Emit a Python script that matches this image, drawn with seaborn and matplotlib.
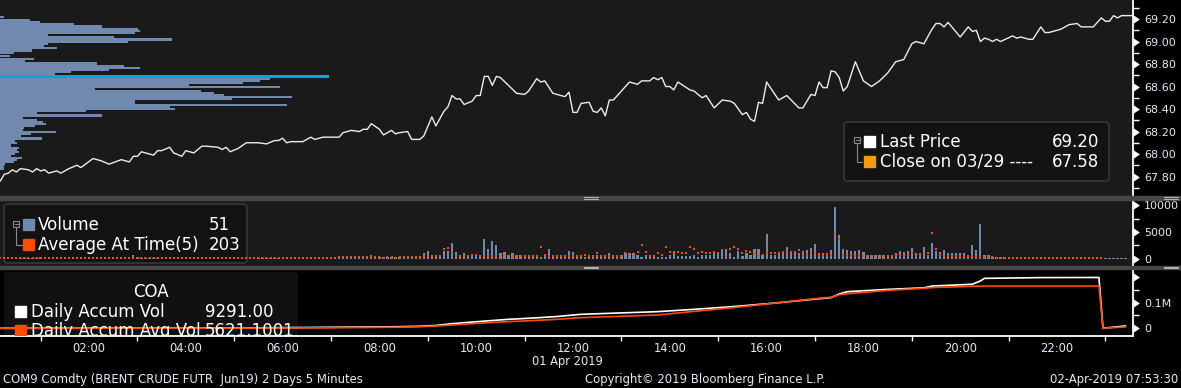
import numpy as np
import matplotlib
matplotlib.use("Agg")
import matplotlib.pyplot as plt
import matplotlib.transforms as mtransforms
from matplotlib.patches import Rectangle, FancyBboxPatch
from matplotlib.lines import Line2D
import seaborn as sns

# ------------------------------------------------------------------ data
price_time = ["00:10","00:15","00:20","00:25","00:30","00:35","00:45","00:50","00:55","01:00",
              "01:05","01:10","01:20","01:25","01:35","01:45","01:50","02:05","02:15","02:25",
              "02:40","02:50","02:55","03:00","03:05","03:20","03:25","03:30","03:40","03:45",
              "03:55","04:00","04:05","04:10","04:20","04:25","04:40","04:45","04:50","04:55",
              "05:05","05:15","05:30","05:40","05:50","05:55","06:00","06:05","06:10","06:25",
              "06:35","06:40","06:50","07:10","07:15","07:25","07:35","07:40","07:45","07:50",
              "08:00","08:05","08:15","08:20","08:25","08:35","08:40","08:50","08:55","09:05",
              "09:10","09:20","09:25","09:30","09:35","09:40","09:45","09:55","10:00","10:05",
              "10:10","10:15","10:20","10:25","10:30","10:50","11:00","11:05","11:15","11:20",
              "11:25","11:35","11:50","11:55","12:00","12:05","12:10","12:20","12:25","12:30",
              "12:35","12:40","12:45","12:50","13:00","13:10","13:20","13:25","13:35","13:40",
              "13:45","13:50","13:55","14:00","14:05","14:10","14:25","14:30","14:40","14:45",
              "14:55","15:05","15:15","15:20","15:30","15:35","15:40","15:45","15:50","15:55",
              "16:00","16:15","16:25","16:40","16:45","16:55","17:00","17:05","17:10","17:15",
              "17:20","17:25","17:30","17:35","17:40","17:50","18:00","18:10","18:20","18:30",
              "18:40","18:50","19:00","19:05","19:15","19:25","19:30","19:35","19:40","19:45",
              "20:00","20:10","20:15","20:20","20:25","20:30","20:35","20:40","20:45","20:50",
              "21:05","21:10","21:15","21:25","21:30","21:40","21:45","21:50","22:05","22:15",
              "22:25","22:30","22:45","22:55","23:00","23:05","23:10","23:15","23:20","23:34"]
price_value = [67.76,67.82,67.83,67.86,67.84,67.87,67.86,67.84,67.87,67.85,
               67.86,67.83,67.85,67.83,67.87,67.90,67.88,67.96,67.94,67.91,
               67.95,67.93,67.98,67.98,68.02,67.99,68.03,68.03,68.06,68.01,
               67.98,68.03,68.02,68.01,68.07,68.07,68.06,68.04,68.06,68.02,
               68.05,68.10,68.10,68.09,68.12,68.12,68.14,68.10,68.11,68.11,
               68.15,68.13,68.15,68.15,68.19,68.21,68.20,68.22,68.22,68.27,
               68.22,68.17,68.21,68.18,68.19,68.20,68.13,68.13,68.16,68.33,
               68.25,68.38,68.42,68.52,68.49,68.49,68.44,68.47,68.52,68.52,
               68.69,68.69,68.61,68.69,68.68,68.54,68.53,68.56,68.67,68.64,
               68.65,68.54,68.51,68.55,68.37,68.37,68.45,68.46,68.38,68.37,
               68.41,68.34,68.48,68.48,68.56,68.64,68.62,68.65,68.65,68.68,
               68.66,68.68,68.60,68.60,68.57,68.64,68.57,68.56,68.50,68.52,
               68.41,68.48,68.47,68.45,68.35,68.37,68.31,68.29,68.46,68.45,
               68.64,68.48,68.52,68.41,68.41,68.53,68.52,68.64,68.59,68.59,
               68.74,68.73,68.68,68.56,68.60,68.82,68.65,68.60,68.65,68.72,
               68.82,68.84,68.98,69.00,68.98,69.11,69.16,69.16,69.13,69.17,
               69.04,69.13,69.09,69.10,69.00,69.03,69.02,69.00,69.02,69.00,
               69.05,69.03,69.04,69.02,69.02,69.13,69.08,69.08,69.11,69.15,
               69.16,69.13,69.13,69.21,69.18,69.18,69.23,69.21,69.23,69.23]

bar_start = "00:10"   # first 5-minute bar, then one bar every 5 minutes
volume = [150,200,180,220,160,120,90,80,140,180,
          200,150,120,100,90,130,110,100,80,120,140,100,
          110,90,130,150,120,100,140,110,160,130,180,620,
          200,150,120,110,140,100,90,120,110,100,130,150,
          120,100,90,110,130,100,80,90,120,110,100,140,
          130,120,100,150,110,120,140,100,130,160,150,180,
          300,160,140,180,150,200,170,160,190,150,170,200,
          180,200,220,300,210,190,240,250,230,260,690,280,
          300,250,220,280,260,240,300,500,260,320,400,
          1125,1500,750,750,750,1500,1500,3000,1310,500,
          1125,750,750,750,500,3750,1875,3190,2625,1125,
          1310,750,1125,750,750,750,500,750,750,375,
          750,1690,500,500,750,750,1500,1310,750,750,
          190,750,750,750,500,750,940,750,750,750,
          940,940,940,750,375,750,750,750,375,375,
          375,750,1125,500,500,500,500,750,375,750,
          750,750,1125,940,1500,1875,1125,375,1500,500,
          1125,750,1875,1690,750,4690,750,750,1125,1500,
          2250,1125,1125,1125,
          1375,1560,2000,2690,1060,940,1125,1560,9690,4375,
          1750,1560,1375,1375,1560,1250,750,750,750,625,
          625,625,750,1125,1375,1250,1375,2000,940,940,
          2190,750,3000,1375,1250,1560,940,1125,1125,940,
          940,750,2625,1560,6440,625,750,
          190,190,310,250,200,180,220,150,200,170,160,190,210,180,
          150,170,200,160,140,180,170,150,200,160,130,180,150,120,
          60,40,70,45,55,51]
avg_at_time = [120,100,110,90,100,80,90,100,110,120,
               110,100,90,100,80,90,100,90,80,100,90,100,
               100,110,90,100,120,100,90,100,110,100,120,130,
               110,100,90,100,90,80,100,90,100,90,100,110,
               100,90,100,90,100,110,90,100,90,100,110,100,
               110,100,120,110,100,120,110,130,120,110,130,140,
               150,130,140,150,160,140,150,170,160,150,170,180,
               170,180,200,190,210,200,220,230,210,240,260,250,
               200,180,190,200,180,200,210,220,220,250,250,
               440,440,560,440,560,1875,2060,1125,560,440,
               560,560,750,750,440,440,560,560,560,560,
               750,440,440,440,440,560,440,560,560,2250,
               750,440,440,440,440,440,440,440,440,560,
               750,560,560,940,440,560,440,560,560,560,
               940,750,750,1310,2440,1310,560,560,940,750,
               2250,1310,1310,1310,940,940,2250,1690,1125,1310,
               1125,940,1310,940,1560,560,1875,2250,1875,1125,
               1500,1310,1125,750,750,940,940,940,940,1310,
               1310,1310,1310,1560,
               690,750,940,1125,625,750,690,750,4690,3750,
               750,625,625,560,625,560,440,500,440,500,
               440,500,560,625,750,560,625,940,560,625,
               940,1125,4800,1875,625,560,500,440,440,380,
               380,310,440,310,250,250,190,
               190,160,150,170,140,150,130,160,150,140,130,150,140,160,
               150,130,140,150,130,140,120,150,140,130,120,140,130,150,
               np.nan,np.nan,np.nan,np.nan,np.nan,np.nan]

accum_time = ["00:10","05:00","06:20","07:00","07:40","08:20","08:50","09:10","09:30","09:50",
              "10:10","10:40","11:10","11:40","12:10","12:50","13:45","14:30","15:20","16:15",
              "17:10","17:20","17:30","17:40","18:30","19:15","19:25","20:15","20:25","20:30",
              "21:40","22:52","22:57","23:25"]
accum_vol = [0,1000,3000,4000,5000,6000,8000,11000,18000,23000,
             28000,35000,40000,46000,54600,59000,65000,74000,85000,100000,
             117000,120000,134000,143000,152000,158000,165000,172000,185000,195000,
             198000,198500,0,9291]
accum_avg = [0,500,1500,2000,3000,4000,6000,9000,13000,17000,
             21000,26000,30000,35000,41600,46000,52000,66000,81000,100000,
             119000,121000,131000,135000,148000,156000,159000,164000,165000,165000,
             165000,165000,0,5621]

profile_price = [69.218,69.191,69.173,69.156,69.133,69.111,69.093,69.076,69.058,69.040,
                 69.018,68.996,68.978,68.960,68.942,68.920,68.898,68.871,68.844,68.827,
                 68.804,68.782,68.764,68.747,68.729,68.711,68.689,68.667,68.649,68.631,
                 68.613,68.596,68.578,68.560,68.542,68.524,68.507,68.489,68.471,68.453,
                 68.436,68.418,68.400,68.382,68.364,68.342,68.320,68.302,68.284,68.267,
                 68.249,68.231,68.213,68.196,68.178,68.160,68.138,68.116,68.098,68.076,
                 68.053,68.036,68.018,68.000,67.982,67.964,67.947,67.929,67.911,67.893,67.871]
profile_volume = [4,30,40,74,102,138,140,135,48,114,
                  172,128,48,44,57,32,14,10,34,25,
                  97,124,140,109,71,55,329,270,260,243,
                  189,280,95,201,214,224,292,232,135,135,
                  287,170,175,86,37,102,23,37,43,46,
                  35,24,23,56,31,21,42,15,17,11,
                  19,17,19,15,11,22,17,14,5,4,4]
poc_price = 68.689

hour_labels = ["02:00","04:00","06:00","08:00","10:00","12:00","14:00","16:00","18:00","20:00","22:00"]
price_ticks = [67.80, 68.00, 68.20, 68.40, 68.60, 68.80, 69.00, 69.20]
volume_ticks = [0, 5000, 10000]
volume_tick_labels = ["0", "5000", "10000"]
accum_ticks = [0, 100000, 200000]
accum_tick_labels = ["0", "0.1M", ""]

last_price, prev_close = "69.20", "67.58"
last_volume, last_avg = "51", "203"
day_accum_vol, day_accum_avg = "9291.00", "5621.1001"

# ------------------------------------------------------------------ style
W, H = 1181, 388
BG = "#1a1a1a"
TXT = "#e2eaf6"
VOLC = "#7189ae"
ORG = "#ff4a0a"

sns.set_theme(style="dark", rc={
    "figure.facecolor": "black", "axes.facecolor": BG, "axes.edgecolor": "white",
    "axes.grid": False, "xtick.color": "white", "ytick.color": "white",
    "savefig.facecolor": "black"})
plt.rcParams["font.family"] = ["DejaVu Sans"]

def hrs(s):
    return int(s[:2]) + int(s[3:]) / 60.0

X0, X1 = 9.67 / 60, 1414.2 / 60
AXR = 1133

fig = plt.figure(figsize=(W / 100, H / 100), dpi=100)
PX = mtransforms.Affine2D().scale(1 / W, -1 / H).translate(0, 1) + fig.transFigure

def rect(yt, yb):
    return [0, 1 - yb / H, AXR / W, (yb - yt) / H]

ax_prof = fig.add_axes(rect(0, 196), zorder=0)
ax_top = fig.add_axes(rect(0, 196), sharey=ax_prof, zorder=1)
ax_mid = fig.add_axes(rect(200, 265.5), zorder=1)
ax_bot = fig.add_axes(rect(269, 336), zorder=1)

ax_prof.set_facecolor(BG)
ax_top.patch.set_alpha(0)
ax_mid.set_facecolor(BG)
ax_bot.set_facecolor("black")

# ---- volume profile
pcol = ["#00a6de" if abs(p - poc_price) < 1e-6 else VOLC for p in profile_price]
for p, v, c in sorted(zip(profile_price, profile_volume, pcol), key=lambda t: t[2] == "#00a6de"):
    ax_prof.barh(p, v, height=(0.027 if c != VOLC else 0.022), color=c, linewidth=0, left=0.0)
ax_prof.set_xlim(0, max(profile_volume) / 0.2904)
ax_prof.set_xticks([])
ax_prof.tick_params(left=False, labelleft=False, right=False, labelright=False, bottom=False)
for s in ax_prof.spines.values():
    s.set_visible(False)

# ---- price line
sns.lineplot(x=[hrs(t) for t in price_time], y=price_value, ax=ax_top, color="#ececec",
             linewidth=1.0, estimator=None, sort=False)
ax_top.set_xlim(X0, X1)
ax_top.set_ylim(67.627, 69.369)

# ---- volume panel
bar_h = hrs(bar_start) + np.arange(len(volume)) * 5 / 60.0
ax_mid.bar(bar_h, volume, width=2.2 / 48.4, color=VOLC, linewidth=0, zorder=2)
sns.scatterplot(x=bar_h, y=avg_at_time, ax=ax_mid, marker="s", s=4.5, color=ORG, linewidth=0, zorder=3)
ax_mid.set_xlim(X0, X1)
ax_mid.set_ylim(-1313, 10975)

# ---- accumulation panel
acc_h = [hrs(t) for t in accum_time]
sns.lineplot(x=acc_h, y=accum_vol, ax=ax_bot, color="white", linewidth=1.2, estimator=None, sort=False)
sns.lineplot(x=acc_h, y=accum_avg, ax=ax_bot, color=ORG, linewidth=1.2, estimator=None, sort=False)
ax_bot.set_xlim(X0, X1)
ax_bot.set_ylim(-30100, 231600)

# ---- axes decoration
def right_axis(ax, ticks, labels, minor):
    ax.yaxis.tick_right()
    ax.set_yticks(ticks)
    ax.set_yticklabels(labels)
    ax.set_yticks(minor, minor=True)
    ax.tick_params(axis="y", which="major", length=0, pad=8, labelsize=8, labelcolor=TXT)
    ax.tick_params(axis="y", which="minor", length=4, width=1, color="white", direction="out",
                   right=True, left=False)
    ax.set_ylabel("")
    tr = mtransforms.blended_transform_factory(ax.transAxes, ax.transData)
    ax.scatter(np.ones(len(ticks)), ticks, transform=tr, marker=9, s=38, color="white",
               clip_on=False, zorder=6, linewidth=0)
    for k, s in ax.spines.items():
        s.set_visible(k == "right")
    ax.spines["right"].set_color("white")
    ax.spines["right"].set_linewidth(1.3)

ylo, yhi = ax_top.get_ylim()
right_axis(ax_top, price_ticks, [f"{t:.2f}" for t in price_ticks],
           [t + 0.1 for t in price_ticks[:-1]] + [67.70, 69.30])
ax_top.set_ylim(ylo, yhi)
ax_top.set_xticks([])
right_axis(ax_mid, volume_ticks, volume_tick_labels, [2500, 7500])
ax_mid.set_ylim(-1313, 10975)
ax_mid.set_xticks([])
right_axis(ax_bot, accum_ticks, accum_tick_labels, [50000, 150000])
ax_bot.set_ylim(-30100, 231600)
ax_bot.spines["bottom"].set_visible(True)
ax_bot.spines["bottom"].set_color("white")
ax_bot.spines["bottom"].set_linewidth(1.3)
ax_bot.set_xticks([hrs(s) for s in hour_labels])
ax_bot.set_xticklabels(hour_labels)
ax_bot.set_xticks(np.arange(1, 24, 2), minor=True)
ax_bot.tick_params(axis="x", which="major", length=0, pad=4, labelsize=8.3, labelcolor=TXT)
ax_bot.tick_params(axis="x", which="minor", length=3.5, width=1, color="white", bottom=True)
ax_bot.set_xlabel("")
for a in (ax_top, ax_mid):
    a.set_xlabel("")

# ---- separators
for yt, hh in ((196, 4), (265.5, 3.5)):
    fig.add_artist(Rectangle((0, yt), W, hh, transform=PX, color="#464646", zorder=4))
    for gx in (584, 1164):
        for dy in (1.0, 2.6):
            fig.add_artist(Line2D([gx, gx + 14], [yt + dy, yt + dy], transform=PX,
                                  color="#b0b0b0", lw=0.8, zorder=5))

# ---- legends
def box(x, y, w, h, fc, ec, alpha=1.0, target=None):
    p = FancyBboxPatch((x, y), w, h, boxstyle="round,pad=0,rounding_size=4", transform=PX,
                       facecolor=fc, edgecolor=ec, lw=1.0, alpha=alpha, zorder=5)
    if target is None:
        fig.add_artist(p)
    else:
        p.set_zorder(0.5)
        target.add_patch(p)

def sq(x, y, c, target=None):
    r = Rectangle((x, y), 11, 11, transform=PX, color=c, zorder=6)
    if target is None:
        fig.add_artist(r)
    else:
        target.add_patch(r)

def tree(x, y, ynext, xend):
    fig.add_artist(Rectangle((x, y), 6, 6, transform=PX, fill=False, ec="#8a8a8a", lw=0.8, zorder=6))
    fig.add_artist(Line2D([x + 1.5, x + 4.5], [y + 3, y + 3], transform=PX, color="#8a8a8a", lw=0.8, zorder=6))
    fig.add_artist(Line2D([x + 3, x + 3, xend], [y + 6, ynext, ynext], transform=PX, color="#8a8a8a", lw=0.8, zorder=6))

def ftext(x, y, s, **kw):
    kw.setdefault("color", "white")
    kw.setdefault("fontsize", 12)
    kw.setdefault("va", "center")
    fig.text(x, y, s, transform=PX, zorder=7, **kw)

# top legend
box(844, 122, 265, 59, "#131313", "#3e3e3e")
tree(854, 137, 162, 862)
sq(864, 136, "white")
sq(864, 156, "#f39a0e")
ftext(880, 142, "Last Price")
ftext(1099, 142, last_price, ha="right")
ftext(880, 162, "Close on 03/29 ----")
ftext(1099, 162, prev_close, ha="right")

# middle legend (box beneath the bars and dots)
box(4, 204, 243, 59, "#121212", "#3e3e3e", target=ax_mid)
tree(13, 221, 245, 22)
sq(23, 219, VOLC)
sq(23, 239, ORG)
ftext(38, 225, "Volume")
ftext(209, 225, last_volume)
ftext(38, 245, "Average At Time(5)")
ftext(209, 245, last_avg)

# bottom legend (beneath the lines, clipped by the panel)
box(4, 272, 294, 75, "#111111", "none", target=ax_bot)
sq(15, 306, "white", target=ax_bot)
sq(15, 325, ORG, target=ax_bot)
for x, y, s, ha in ((151, 292, "COA", "center"), (31, 312, "Daily Accum Vol", "left"),
                    (205, 312, day_accum_vol, "left"), (31, 331, "Daily Accum Avg Vol", "left"),
                    (205, 331, day_accum_avg, "left")):
    ax_bot.text(x, y, s, transform=PX, color="white", fontsize=12, va="center", ha=ha,
                clip_on=True, zorder=7)

# ---- footer texts
ftext(567, 361, "01 Apr 2019", fontsize=8.3, color=TXT, ha="center")
ftext(3, 380, "COM9 Comdty (BRENT CRUDE FUTR  Jun19) 2 Days 5 Minutes", fontsize=8.4, color=TXT)
ftext(705, 380, "Copyright\u00a9 2019 Bloomberg Finance L.P.", fontsize=8.4, color=TXT, ha="center")
ftext(1178, 380, "02-Apr-2019 07:53:30", fontsize=8.4, color=TXT, ha="right")

fig.savefig("out.png", dpi=100, facecolor="black")
